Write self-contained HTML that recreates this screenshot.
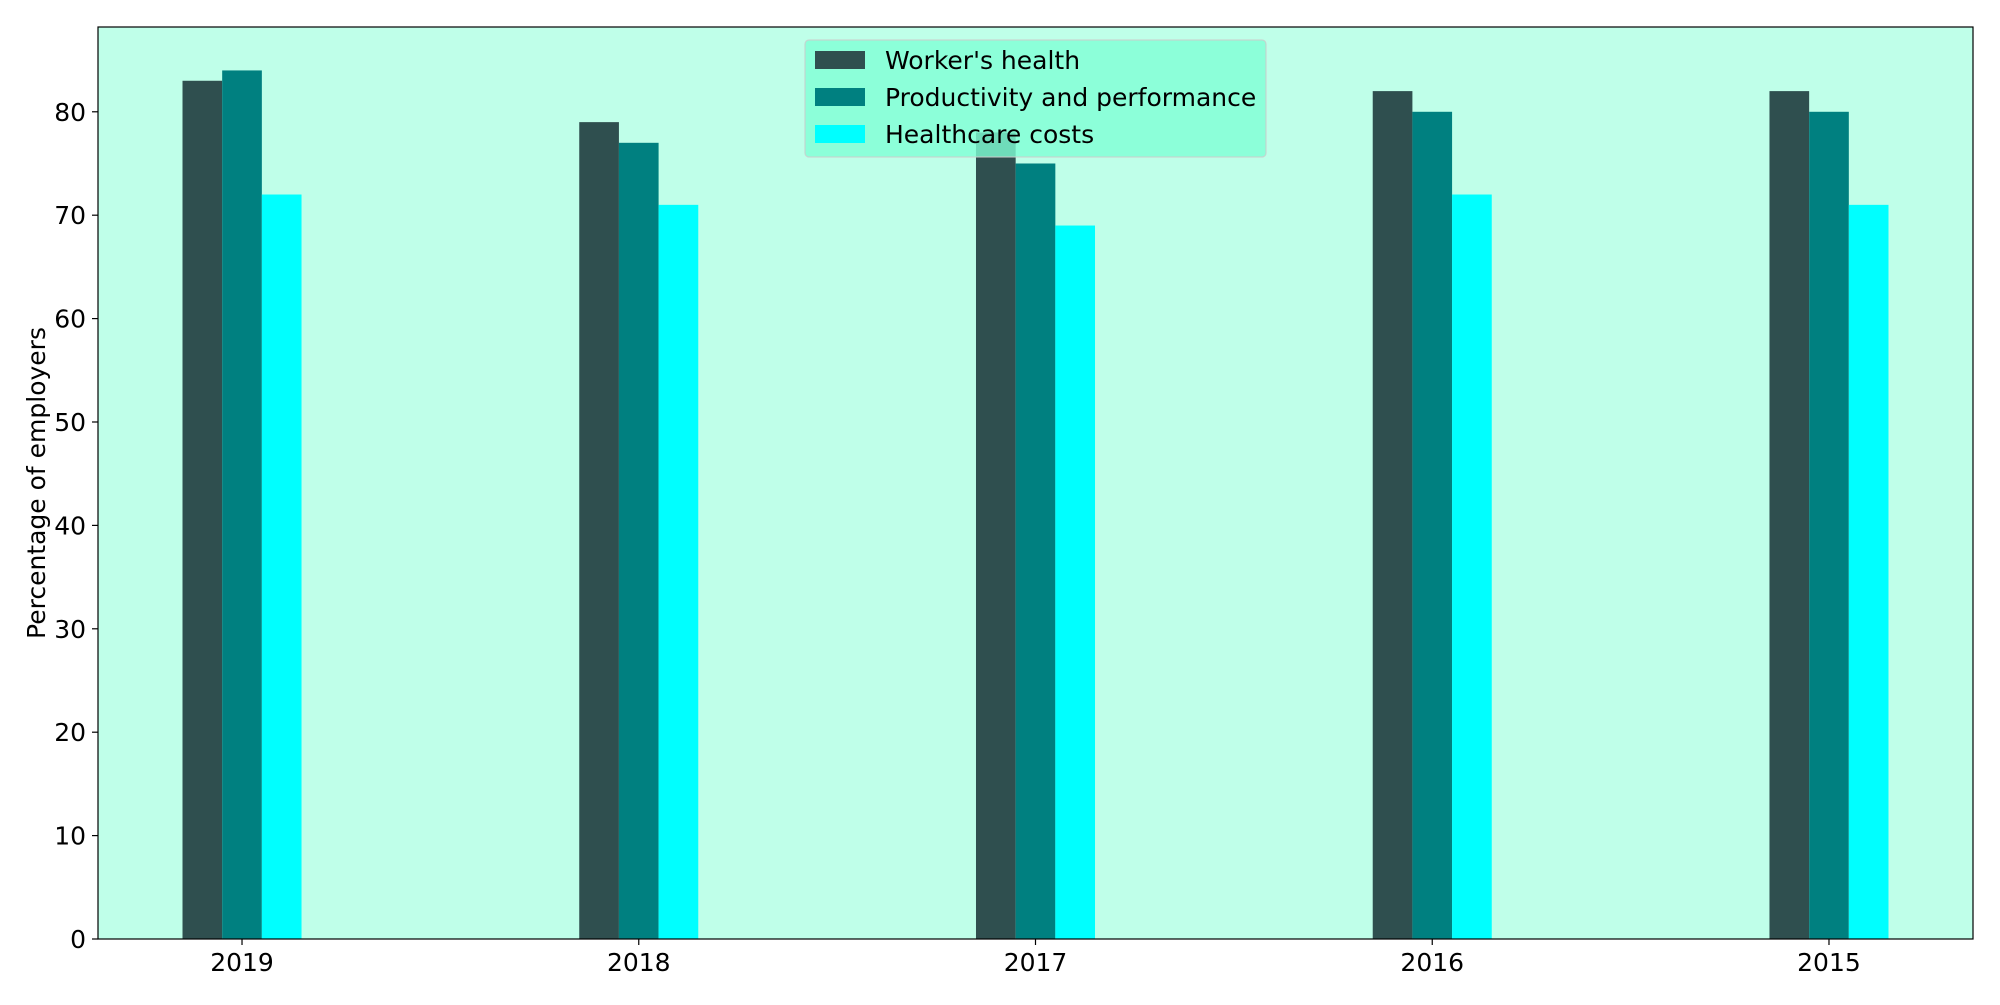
<!DOCTYPE html>
<html><head><meta charset="utf-8"><style>
body{margin:0;background:#fff;}
text{font-family:"DejaVu Sans","Liberation Sans",sans-serif;fill:#000;}
</style></head><body>
<svg id="chart" width="2000" height="1000" xmlns="http://www.w3.org/2000/svg"></svg>
<script>
const categories = ["2019","2018","2017","2016","2015"];
const workersHealth = [83,79,78,82,82];
const productivity = [84,77,75,80,80];
const healthcareCosts = [72,71,69,72,71];
const yTicks = [0,10,20,30,40,50,60,70,80];
const seriesNames = ["Worker's health","Productivity and performance","Healthcare costs"];

const NS="http://www.w3.org/2000/svg";
const svg=document.getElementById('chart');
const L=98,R=1973,T=27,B=939;
const xMin=-0.363,xMax=4.363,yMax=88.2;
const FS=25;
const xs=v=>L+(v-xMin)/(xMax-xMin)*(R-L);
const ys=v=>B-v/yMax*(B-T);
function mk(tag,attrs,parent){const e=document.createElementNS(NS,tag);for(const k in attrs)e.setAttribute(k,attrs[k]);(parent||svg).appendChild(e);return e;}

const bg=mk('rect',{x:L,y:T,width:R-L,height:B-T,fill:'#bfffe9'});



const colors=['#2f4f4f','#008080','#00ffff'];
const series=[workersHealth,productivity,healthcareCosts];
const w=0.1;
series.forEach((s,si)=>{
  s.forEach((v,i)=>{
    const c=i+(si-1)*w;
    const x0=xs(c-w/2),x1=xs(c+w/2);
    const r=mk('rect',{x:x0,y:ys(v),width:x1-x0,height:ys(0)-ys(v),fill:colors[si]});
    
    
  });
});

const frame=mk('rect',{x:L,y:T,width:R-L,height:B-T,fill:'none',stroke:'#000','stroke-width':1.2});



yTicks.forEach(t=>{
  const y=ys(t);
  mk('line',{x1:L-6,x2:L,y1:y,y2:y,stroke:'#000','stroke-width':1.2});
  const tx=mk('text',{x:L-12,y:y+9,'text-anchor':'end','font-size':FS});
  tx.textContent=t;
  
  
});
categories.forEach((c,i)=>{
  const x=xs(i);
  mk('line',{x1:x,x2:x,y1:B,y2:B+6,stroke:'#000','stroke-width':1.2});
  const tx=mk('text',{x:x,y:B+32,'text-anchor':'middle','font-size':FS});
  tx.textContent=c;
  
  
});

const yl=mk('text',{x:0,y:0,'text-anchor':'middle','font-size':FS,transform:'translate(45,483) rotate(-90)'});
yl.textContent='Percentage of employers';



const lg=mk('g',{});


mk('rect',{x:805,y:40,width:461,height:117,rx:4,fill:'rgba(127,255,212,0.8)',stroke:'rgba(204,204,204,0.8)','stroke-width':1.2},lg);
seriesNames.forEach((n,i)=>{
  const cy=60+i*37;
  const sw=mk('rect',{x:815,y:cy-9,width:50,height:18,fill:colors[i]},lg);
  
  
  const tx=mk('text',{x:885,y:cy+9,'font-size':FS},lg);
  tx.textContent=n;
  
  
});
</script>
</body></html>
